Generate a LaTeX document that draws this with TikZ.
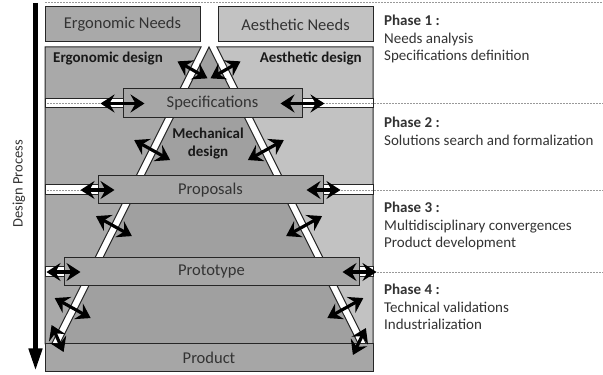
\documentclass[tikz,border=0pt]{standalone}
\usepackage{fontspec}
\setmainfont{Carlito}
\usetikzlibrary{arrows.meta,calc}

\definecolor{ergofill}{HTML}{A9A9A9}
\definecolor{aesfill}{HTML}{C2C2C2}
\definecolor{mechfill}{HTML}{A0A0A0}
\definecolor{stagefill}{HTML}{A6A6A6}
\definecolor{txtgray}{HTML}{333333}

\tikzset{
  stage/.style={draw=black!85, fill=stagefill, line width=1pt, inner sep=0pt,
    font=\fontsize{16.5}{18}\selectfont, text=txtgray},
  region/.style={draw=black!85, line width=1pt},
  band/.style={draw=black!85, fill=white, line width=1pt},
  phaseline/.style={gray!80, dash pattern=on 1.5pt off 1.5pt, line width=0.6pt},
  link/.style={line width=3.2pt,
    {Stealth[length=14pt,width=18pt,inset=5pt]}-{Stealth[length=14pt,width=18pt,inset=5pt]}},
  phasetext/.style={anchor=north west, inner sep=0pt, align=left,
    font=\fontsize{15}{17.5}\selectfont, text=txtgray},
  area/.style={inner sep=0pt, text=black!90,
    font=\bfseries\fontsize{15}{18}\selectfont}
}

\begin{document}
\begin{tikzpicture}[x=1pt,y=1pt]
  \useasboundingbox (0,0) rectangle (603,375);

  % design areas around the mechanical triangle
  \filldraw[region, fill=ergofill] (45,328) -- (201,328) -- (51.6,31) -- (45,31) -- cycle;
  \filldraw[region, fill=aesfill] (217,328) -- (373,328) -- (373,31) -- (366.4,31) -- cycle;
  \filldraw[region, fill=mechfill] (209,328) -- (59.6,31) -- (358.4,31) -- cycle;

  % stripe centre lines
  \coordinate (ltop) at (204,328);
  \coordinate (lbot) at (54.6,31);
  \coordinate (rtop) at (214,328);
  \coordinate (rbot) at (363.4,31);

  % needs
  \node[stage, fill=ergofill, minimum width=155pt, minimum height=35pt]
        (ergoneeds) at (122.5,350.5) {Ergonomic Needs};
  \node[stage, fill=aesfill, minimum width=155pt, minimum height=35pt]
        (aesneeds) at (295.5,350.5) {Aesthetic Needs};

  % white bands at each stage
  \draw[band] (45,267) rectangle (123,276);
  \draw[band] (302,267) rectangle (373,276);
  \draw[band] (45,180) rectangle (98,190);
  \draw[band] (323,180) rectangle (373,190);
  \draw[band] (45,98) rectangle (64,108);
  \draw[band] (359,98) rectangle (373,108);

  % phase separators
  \draw[phaseline] (45,372.5) -- (603,372.5);
  \draw[phaseline] (47,271.5) -- (123,271.5);
  \draw[phaseline] (302,271.5) -- (603,271.5);
  \draw[phaseline] (47,185) -- (98,185);
  \draw[phaseline] (323,185) -- (603,185);
  \draw[phaseline] (47,103) -- (64,103);
  \draw[phaseline] (359,103) -- (603,103);

  % stages
  \node[stage, minimum width=179pt, minimum height=29pt] (spec) at (212.5,271.5) {Specifications};
  \node[stage, minimum width=225pt, minimum height=28pt] (prop) at (210.5,185) {Proposals};
  \node[stage, minimum width=295pt, minimum height=28pt] (proto) at (211.5,103) {Prototype};
  \node[stage, minimum width=328pt, minimum height=28pt] (product) at (209,17) {Product};

  \node[area, anchor=west] (ergodesign) at (53,316) {Ergonomic design};
  \node[area, anchor=east] (aesdesign) at (362,316) {Aesthetic design};
  \node[area, align=center] (mechdesign) at (208,231) {Mechanical\\design};

  % exchanges with the stages
  \draw[link] ($(spec.west)+(-22,0)$) -- ($(spec.west)+(22,0)$);
  \draw[link] ($(spec.east)+(-22,0)$) -- ($(spec.east)+(22,0)$);
  \draw[link] ($(prop.west)+(-17,0)$) -- ($(prop.west)+(17,0)$);
  \draw[link] ($(prop.east)+(-17,0)$) -- ($(prop.east)+(17,0)$);
  \draw[link] ($(proto.west)+(-17,0)$) -- ($(proto.west)+(17,0)$);
  \draw[link] ($(proto.east)+(-17,0)$) -- ($(proto.east)+(17,0)$);

  % exchanges across the stripes
  \foreach \t/\dx/\dy in {0.077/15/8.5, 0.347/18/10, 0.603/18/10, 0.879/18/10}{
    \draw[link] ($(ltop)!\t!(lbot)+(-\dx,\dy)$) -- ($(ltop)!\t!(lbot)+(\dx,-\dy)$);
    \draw[link] ($(rtop)!\t!(rbot)+(-\dx,-\dy)$) -- ($(rtop)!\t!(rbot)+(\dx,\dy)$);
  }
  \draw[link] ($(lbot)+(-3,19)$) -- ($(lbot)+(9,-8)$);
  \draw[link] ($(rbot)+(2.5,16)$) -- ($(rbot)+(-10.5,-11)$);

  % design process arrow
  \coordinate (pstart) at (35.5,372);
  \coordinate (pend) at (35.5,4.5);
  \draw[line width=4.5pt, -{Triangle[length=22pt,width=13pt]}] (pstart) -- (pend);
  \node[rotate=90, font=\fontsize{14.5}{17}\selectfont, text=txtgray]
        (process) at (19,191) {Design Process};

  % phases
  \node[phasetext] (phase1) at (384,360)
        {\textbf{Phase 1 :}\\Needs analysis\\Specifications definition};
  \node[phasetext] (phase2) at (384,258)
        {\textbf{Phase 2 :}\\Solutions search and formalization};
  \node[phasetext] (phase3) at (384,173)
        {\textbf{Phase 3 :}\\Multidisciplinary convergences\\Product development};
  \node[phasetext] (phase4) at (384,91)
        {\textbf{Phase 4 :}\\Technical validations\\Industrialization};
\end{tikzpicture}
\end{document}
